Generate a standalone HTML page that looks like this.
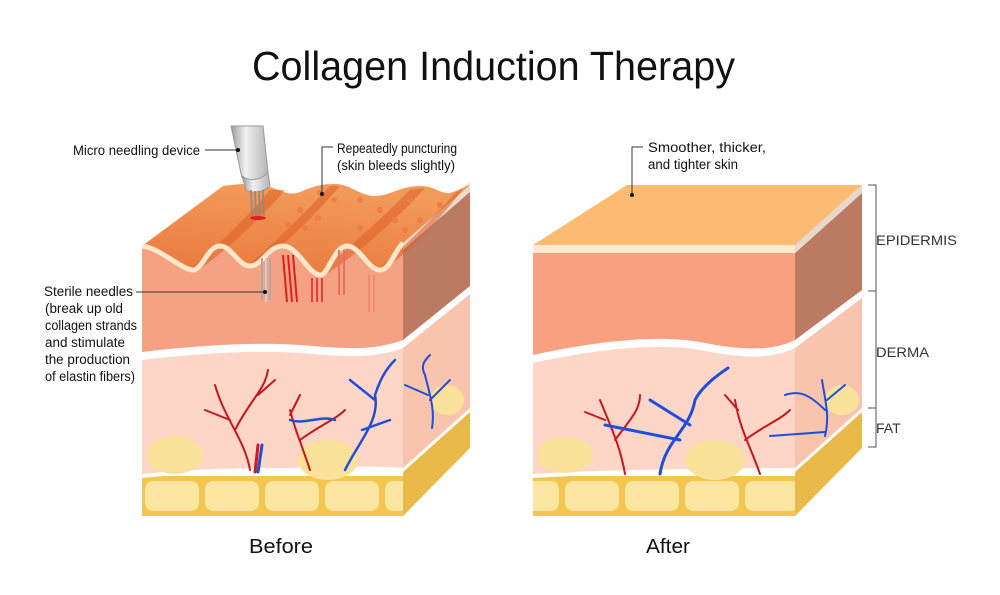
<!DOCTYPE html>
<html><head><meta charset="utf-8"><style>
html,body{margin:0;padding:0;background:#fff;}
svg{display:block;font-family:"Liberation Sans",sans-serif;}
</style></head><body>
<svg width="1000" height="595" viewBox="0 0 1000 595" xmlns="http://www.w3.org/2000/svg">
<defs>
<pattern id="fat" width="60" height="36" patternUnits="userSpaceOnUse" x="142" y="478">
<rect width="60" height="36" fill="#f3c64f"/>
<rect x="3" y="3" width="54" height="30" rx="8" fill="#fbe6a2"/>
</pattern>
<linearGradient id="topL" x1="0" y1="1" x2="0.3" y2="0"><stop offset="0" stop-color="#e9773c"/><stop offset="1" stop-color="#f29a5a"/></linearGradient>
<linearGradient id="dev" x1="0" y1="0" x2="1" y2="0"><stop offset="0" stop-color="#9a9a9a"/><stop offset="0.4" stop-color="#f2f2f2"/><stop offset="1" stop-color="#b5b5b5"/></linearGradient>
</defs>
<rect width="1000" height="595" fill="#fff"/>
<text x="252" y="80" font-size="41" fill="#111" textLength="483" lengthAdjust="spacingAndGlyphs">Collagen Induction Therapy</text>

<!-- ===== LEFT BLOCK ===== -->
<rect x="142" y="476" width="261" height="40" fill="url(#fat)"/>
<polygon points="403,470 470,410 470,448 403,516" fill="#e9b94a"/>
<path d="M142,352 C200,345 260,342 300,345 C340,348 370,352 403,340 L403,470 C380,468 330,468 290,470 C250,472 220,470 200,470 L142,476 Z" fill="#fdd6c8"/>
<polygon points="403,340 470,286 470,410 403,470" fill="#f9c4ad"/>
<path d="M142,352 C200,345 260,342 300,345 C340,348 370,352 403,340 L470,286 L470,294 L403,348 C370,360 340,356 300,353 C260,350 200,353 142,360 Z" fill="#fff"/>
<path d="M142,474 C200,468 250,468 290,468 C330,466 380,466 403,468 L470,408 L470,412 L403,472 C380,470 330,470 290,472 C250,472 200,472 142,478 Z" fill="#fff"/>
<path d="M142,248 L142,352 C200,345 260,342 300,345 C340,348 370,352 403,340 L403,245 Z" fill="#f5a183"/>
<polygon points="403,245 470,190 470,286 403,340" fill="#bd7a62"/>
<polygon points="403,240 470,182 470,192 403,250" fill="#e9ddd0"/>
<!-- wavy top surface -->
<path d="M142,246 L223,186 C240,184 255,182 270,187 C285,192 290,196 300,192 C315,186 320,184 335,184 C350,184 360,196 375,196 C390,196 400,186 420,186 C435,186 440,194 450,193 C460,190 465,186 470,185 L403,243 C395,250 390,270 380,270 C368,270 360,246 347,246 C334,246 328,276 320,275 C308,274 298,246 283,246 C268,246 262,266 250,266 C238,266 232,246 220,246 C208,246 202,270 193,270 C182,270 160,248 142,246 Z" fill="url(#topL)"/>
<!-- trough shading -->
<g fill="#dd5f26" opacity="0.55">
<path d="M190,268 C200,262 245,220 270,190 L285,190 C260,220 215,260 198,270 Z"/>
<path d="M247,266 C262,255 300,218 330,186 L340,186 C315,215 275,255 255,266 Z"/>
<path d="M318,274 C335,260 375,225 410,190 L425,188 C395,222 350,260 326,274 Z"/>
<path d="M378,269 C395,255 430,222 455,193 L463,189 C440,220 405,255 386,268 Z"/>
</g>
<path d="M142,246 C160,248 182,270 193,270 C202,270 208,246 220,246 C232,246 238,266 250,266 C262,266 268,246 283,246 C298,246 308,274 320,275 C328,276 334,246 347,246 C360,246 368,270 380,270 C390,270 395,250 403,243" fill="none" stroke="#fde7c8" stroke-width="5"/>
<g fill="#ef7d45">
<circle cx="320" cy="193" r="3"/><circle cx="334" cy="200" r="3"/><circle cx="300" cy="210" r="3"/><circle cx="318" cy="218" r="3"/><circle cx="288" cy="225" r="3"/><circle cx="305" cy="228" r="3"/><circle cx="360" cy="200" r="3"/><circle cx="380" cy="210" r="3"/><circle cx="395" cy="220" r="3"/><circle cx="410" cy="200" r="3"/><circle cx="420" cy="220" r="3"/><circle cx="440" cy="205" r="3"/><circle cx="405" cy="230" r="3"/><circle cx="360" cy="228" r="3"/>
</g>
<g stroke-width="2">
<line x1="262" y1="258" x2="262" y2="300" stroke="#aaa"/><line x1="266" y1="258" x2="266" y2="302" stroke="#ccc"/><line x1="270" y1="258" x2="270" y2="300" stroke="#aaa"/>
<line x1="283" y1="255" x2="287" y2="302" stroke="#e02020"/><line x1="288" y1="255" x2="292" y2="302" stroke="#e02020"/><line x1="293" y1="255" x2="297" y2="302" stroke="#e02020"/>
<line x1="312" y1="278" x2="312" y2="302" stroke="#e54040"/><line x1="317" y1="278" x2="317" y2="302" stroke="#e54040"/><line x1="322" y1="278" x2="322" y2="302" stroke="#e54040"/>
<line x1="339" y1="250" x2="339" y2="295" stroke="#e87060"/><line x1="344" y1="250" x2="344" y2="295" stroke="#e87060"/>
<line x1="369" y1="275" x2="369" y2="312" stroke="#f08a70"/><line x1="374" y1="275" x2="374" y2="312" stroke="#f08a70"/>
</g>
<ellipse cx="175" cy="455" rx="28" ry="19" fill="#fbe29a"/>
<ellipse cx="328" cy="460" rx="30" ry="20" fill="#fbe29a"/>
<ellipse cx="447" cy="400" rx="17" ry="15" fill="#fbe29a"/>
<g fill="none" stroke-linecap="round">
<path d="M250,470 C245,440 225,420 215,385 M235,430 C250,400 265,390 268,370 M230,420 L205,410 M258,395 L275,380" stroke="#c8161d" stroke-width="2"/>
<path d="M310,470 C300,440 295,430 290,410 M300,440 C320,425 335,420 345,410 M290,415 L300,395" stroke="#c8161d" stroke-width="2"/>
<path d="M345,470 C360,440 380,420 375,395 C380,380 385,370 395,360 M362,430 L390,420 M375,400 L350,380 M335,420 C320,415 305,425 290,420" stroke="#1f4fd8" stroke-width="2.5"/>
<path d="M432,428 C435,410 430,395 425,375 C420,365 425,360 430,355 M428,395 L405,385 M430,400 L450,380" stroke="#1f4fd8" stroke-width="2"/>
<path d="M258,472 L262,445" stroke="#1f4fd8" stroke-width="3"/><path d="M255,472 L258,445" stroke="#d01818" stroke-width="3"/>
</g>
<!-- device -->
<path d="M231,126 L263,126 L268,172 C262,180 250,182 242,178 Z" fill="url(#dev)" stroke="#999" stroke-width="1"/>
<path d="M242,176 C250,182 262,180 268,172 L270,186 C263,192 252,194 246,190 Z" fill="url(#dev)" stroke="#999"/>
<g stroke="#8a8a8a" stroke-width="1.6"><line x1="251" y1="190" x2="252" y2="216"/><line x1="255" y1="191" x2="256" y2="218"/><line x1="259" y1="191" x2="260" y2="218"/><line x1="263" y1="190" x2="264" y2="216"/></g>
<ellipse cx="258" cy="218" rx="8" ry="2" fill="#e02020"/>

<g font-size="13.5" fill="#111">
<text x="73" y="155" textLength="127" lengthAdjust="spacingAndGlyphs">Micro needling device</text>
<line x1="205" y1="150" x2="238" y2="150" stroke="#333"/><circle cx="238" cy="150" r="2" fill="#111"/>
<text x="337" y="153" textLength="120" lengthAdjust="spacingAndGlyphs">Repeatedly puncturing</text>
<text x="337" y="170" textLength="118" lengthAdjust="spacingAndGlyphs">(skin bleeds slightly)</text>
<polyline points="333,147 322,147 322,194" fill="none" stroke="#333"/><circle cx="322" cy="194" r="2" fill="#111"/>
<text x="44" y="296" textLength="89" lengthAdjust="spacingAndGlyphs">Sterile needles</text>
<text x="45" y="313" textLength="78" lengthAdjust="spacingAndGlyphs">(break up old</text>
<text x="45" y="330" textLength="92" lengthAdjust="spacingAndGlyphs">collagen strands</text>
<text x="45" y="347" textLength="80" lengthAdjust="spacingAndGlyphs">and stimulate</text>
<text x="45" y="364" textLength="85" lengthAdjust="spacingAndGlyphs">the production</text>
<text x="45" y="381" textLength="90" lengthAdjust="spacingAndGlyphs">of elastin fibers)</text>
<line x1="136" y1="292" x2="265" y2="292" stroke="#333"/><circle cx="265" cy="292" r="2" fill="#111"/>
</g>
<text x="281" y="553" font-size="20" text-anchor="middle" fill="#111" textLength="64" lengthAdjust="spacingAndGlyphs">Before</text>

<!-- ===== RIGHT BLOCK ===== -->
<rect x="533" y="476" width="262" height="40" fill="url(#fat)"/>
<polygon points="795,470 862,410 862,448 795,516" fill="#e9b94a"/>
<path d="M533,355 C600,340 660,335 700,342 C740,350 770,352 795,340 L795,470 L533,476 Z" fill="#fdd6c8"/>
<polygon points="795,340 862,290 862,410 795,470" fill="#f9c4ad"/>
<path d="M533,355 C600,340 660,335 700,342 C740,350 770,352 795,340 L862,290 L862,298 L795,348 C770,360 740,358 700,350 C660,343 600,348 533,363 Z" fill="#fff"/>
<path d="M533,474 C600,470 700,468 795,468 L862,408 L862,412 L795,472 C700,472 600,474 533,478 Z" fill="#fff"/>
<path d="M533,253 L533,355 C600,340 660,335 700,342 C740,350 770,352 795,340 L795,253 Z" fill="#f9a081"/>
<polygon points="795,253 862,193 862,290 795,340" fill="#bd7a62"/>
<polygon points="533,245 795,245 795,253 533,253" fill="#fde9d0"/>
<polygon points="795,245 862,185 862,193 795,253" fill="#e6d9cc"/>
<polygon points="533,245 627,185 862,185 795,245" fill="#fbbb72"/>
<ellipse cx="565" cy="455" rx="28" ry="18" fill="#fbe29a"/>
<ellipse cx="715" cy="460" rx="30" ry="20" fill="#fbe29a"/>
<ellipse cx="842" cy="400" rx="17" ry="15" fill="#fbe29a"/>
<g fill="none" stroke-linecap="round">
<path d="M625,474 C620,445 610,425 600,400 M615,440 C630,420 640,410 640,395 M605,420 L585,412" stroke="#c8161d" stroke-width="2"/>
<path d="M660,474 C665,440 690,430 695,400 C700,390 710,380 728,368 M690,425 L650,400 M680,440 L605,425" stroke="#1f4fd8" stroke-width="3"/>
<path d="M760,474 C750,445 740,430 735,400 M745,440 C765,425 780,420 790,410 M738,410 L725,395" stroke="#c8161d" stroke-width="2"/>
<path d="M825,436 C830,415 825,400 822,380 M825,410 C810,395 800,390 785,395 M827,400 L845,385 M825,432 L770,436" stroke="#1f4fd8" stroke-width="2"/>
</g>
<g font-size="13.5" fill="#111">
<text x="648" y="152" textLength="118" lengthAdjust="spacingAndGlyphs">Smoother, thicker,</text>
<text x="648" y="169" textLength="90" lengthAdjust="spacingAndGlyphs">and tighter skin</text>
<polyline points="643,147 632,147 632,195" fill="none" stroke="#333"/><circle cx="632" cy="195" r="2" fill="#111"/>
</g>
<g fill="none" stroke="#555">
<polyline points="868,185 876,185 876,447 868,447"/>
<line x1="868" y1="291" x2="876" y2="291"/><line x1="868" y1="408" x2="876" y2="408"/>
</g>
<g font-size="14" fill="#333">
<text x="876" y="245" textLength="81" lengthAdjust="spacingAndGlyphs">EPIDERMIS</text>
<text x="876" y="357" textLength="53" lengthAdjust="spacingAndGlyphs">DERMA</text>
<text x="876" y="433">FAT</text>
</g>
<text x="668" y="553" font-size="20" text-anchor="middle" fill="#111" textLength="44" lengthAdjust="spacingAndGlyphs">After</text>
</svg>
</body></html>
